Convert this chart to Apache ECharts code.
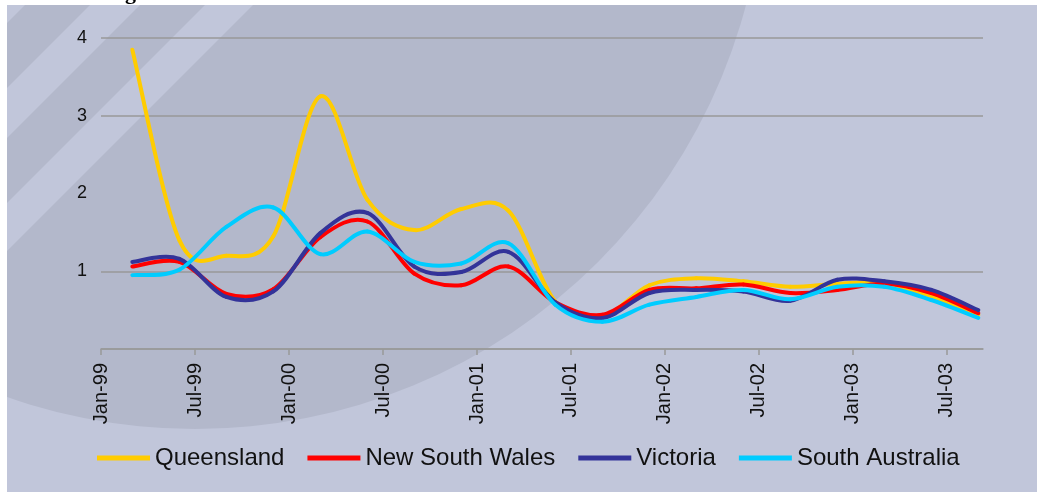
<!DOCTYPE html>
<html>
<head>
<meta charset="utf-8">
<script src="https://cdn.jsdelivr.net/npm/echarts@6/dist/echarts.min.js"></script>
<style>
  html, body { margin: 0; padding: 0; background: #fff; }
  #chart { width: 1037px; height: 502px; }
</style>
</head>
<body>
<div id="chart"></div>
<script>
// tick labels on the date axis, one every 6 months from Jan-99
const tickLabels = ["Jan-99", "Jul-99", "Jan-00", "Jul-00", "Jan-01", "Jul-01", "Jan-02", "Jul-02", "Jan-03", "Jul-03"];

// quarterly observations
const quarters = ["Mar-99", "Jun-99", "Sep-99", "Dec-99", "Mar-00", "Jun-00", "Sep-00", "Dec-00",
  "Mar-01", "Jun-01", "Sep-01", "Dec-01", "Mar-02", "Jun-02", "Sep-02", "Dec-02", "Mar-03", "Jun-03", "Sep-03"];

const seriesNames = ["Queensland", "New South Wales", "Victoria", "South Australia"];
const queensland = [3.85, 1.4, 1.2, 1.45, 3.25, 1.92, 1.53, 1.8, 1.78, 0.61, 0.42, 0.82, 0.91, 0.87, 0.8, 0.84, 0.85, 0.68, 0.44];
const newSouthWales = [1.06, 1.12, 0.71, 0.77, 1.44, 1.64, 0.97, 0.82, 1.06, 0.6, 0.44, 0.76, 0.78, 0.83, 0.72, 0.76, 0.84, 0.72, 0.46];
const victoria = [1.12, 1.16, 0.67, 0.74, 1.49, 1.75, 1.06, 0.99, 1.25, 0.6, 0.4, 0.72, 0.76, 0.74, 0.62, 0.89, 0.87, 0.76, 0.5];
const southAustralia = [0.95, 1.02, 1.57, 1.82, 1.22, 1.51, 1.12, 1.1, 1.36, 0.57, 0.35, 0.57, 0.67, 0.76, 0.64, 0.8, 0.8, 0.63, 0.4];

const colors = ["#ffcc00", "#ff0000", "#333399", "#00ccff"];

const MONTHS = ["Jan", "Feb", "Mar", "Apr", "May", "Jun", "Jul", "Aug", "Sep", "Oct", "Nov", "Dec"];
// months since Jan-99
function monthOffset(label) {
  const [m, y] = label.split("-");
  const year = Number(y) < 50 ? 2000 + Number(y) : 1900 + Number(y);
  return (year - 1999) * 12 + MONTHS.indexOf(m);
}
const xs = quarters.map(monthOffset);

function toPairs(values) {
  return values.map((v, i) => [xs[i], v]);
}

// spreadsheet style smoothed line (catmull-rom through every point)
function smoothLine(values, color) {
  return function (params, api) {
    if (params.dataIndex !== 0) return null;
    const pts = values.map((v, i) => api.coord([xs[i], v]));
    const n = pts.length;
    const children = [];
    for (let i = 0; i < n - 1; i++) {
      const p0 = pts[Math.max(i - 1, 0)];
      const p1 = pts[i];
      const p2 = pts[i + 1];
      const p3 = pts[Math.min(i + 2, n - 1)];
      children.push({
        type: "bezierCurve",
        shape: {
          x1: p1[0], y1: p1[1],
          cpx1: p1[0] + (p2[0] - p0[0]) / 6, cpy1: p1[1] + (p2[1] - p0[1]) / 6,
          cpx2: p2[0] - (p3[0] - p1[0]) / 6, cpy2: p2[1] - (p3[1] - p1[1]) / 6,
          x2: p2[0], y2: p2[1],
        },
        style: { stroke: color, lineWidth: 4, fill: null, lineCap: "round" },
      });
    }
    return { type: "group", children };
  };
}

const bgLight = "#c1c6da";
const bgDark = "#b3b8cb";

// light diagonal stripes in the top-left corner (x + y = c bands)
const stripeBands = [[-40, 30], [95, 145], [210, 258]];
const stripes = stripeBands.map(([c1, c2]) => ({
  type: "polygon",
  z: -8,
  silent: true,
  shape: { points: [[7, c1 - 7], [c1 - 5, 5], [c2 - 5, 5], [7, c2 - 7]] },
  style: { fill: bgLight },
}));

const chart = echarts.init(document.getElementById("chart"));

const allValues = [queensland, newSouthWales, victoria, southAustralia];

chart.setOption({
  animation: false,
  color: colors,
  textStyle: { fontFamily: "Liberation Sans, Arial, sans-serif" },
  graphic: [
    { type: "rect", z: -10, silent: true, shape: { x: 7, y: 5, width: 1030, height: 487 }, style: { fill: bgLight } },
    { type: "circle", z: -9, silent: true, shape: { cx: 195, cy: -141, r: 570 }, style: { fill: bgDark } },
    ...stripes,
    { type: "rect", z: -7, silent: true, shape: { x: 0, y: 0, width: 1037, height: 5 }, style: { fill: "#fff" } },
    { type: "rect", z: -7, silent: true, shape: { x: 0, y: 0, width: 7, height: 502 }, style: { fill: "#fff" } },
    { type: "rect", z: -7, silent: true, shape: { x: 0, y: 492, width: 1037, height: 10 }, style: { fill: "#fff" } },
    {
      type: "text",
      z: -6,
      silent: true,
      style: { text: "g", x: 125, y: 4, font: "bold 22px 'Liberation Serif', serif", fill: "#000", textVerticalAlign: "bottom" },
    },
  ],
  grid: {
    left: 101,
    right: 54,
    top: 38,
    bottom: 153,
  },
  legend: {
    data: seriesNames,
    left: 97,
    top: 446,
    padding: 0,
    icon: "rect",
    itemWidth: 53,
    itemHeight: 5,
    itemGap: 23,
    textStyle: { fontSize: 24, color: "#111", fontFamily: "Liberation Sans, Arial, sans-serif" },
  },
  xAxis: {
    type: "value",
    min: 0,
    max: 56.3,
    interval: 6,
    axisLine: { show: true, onZero: false, lineStyle: { color: "#999", width: 1.5 } },
    axisTick: { show: true, length: 6, lineStyle: { color: "#999", width: 1.5 } },
    splitLine: { show: false },
    axisLabel: {
      rotate: 90,
      margin: 14,
      fontSize: 20,
      color: "#111",
      showMaxLabel: false,
      formatter: (val) => tickLabels[Math.round(val / 6)] || "",
    },
  },
  yAxis: {
    type: "value",
    min: 0,
    max: 4,
    interval: 1,
    axisLine: { show: false },
    axisTick: { show: false },
    axisLabel: {
      margin: 14,
      fontSize: 18,
      color: "#111",
      formatter: (val) => (val === 0 ? "" : String(val)),
    },
    splitLine: {
      show: true,
      lineStyle: { color: ["#999", "#999", "rgba(0,0,0,0)", "#999", "#999"], width: 1.5 },
    },
  },
  series: seriesNames.map((name, i) => ({
    name,
    type: "custom",
    renderItem: smoothLine(allValues[i], colors[i]),
    itemStyle: { color: colors[i] },
    encode: { x: 0, y: 1 },
    data: toPairs(allValues[i]),
  })),
});
</script>
</body>
</html>
